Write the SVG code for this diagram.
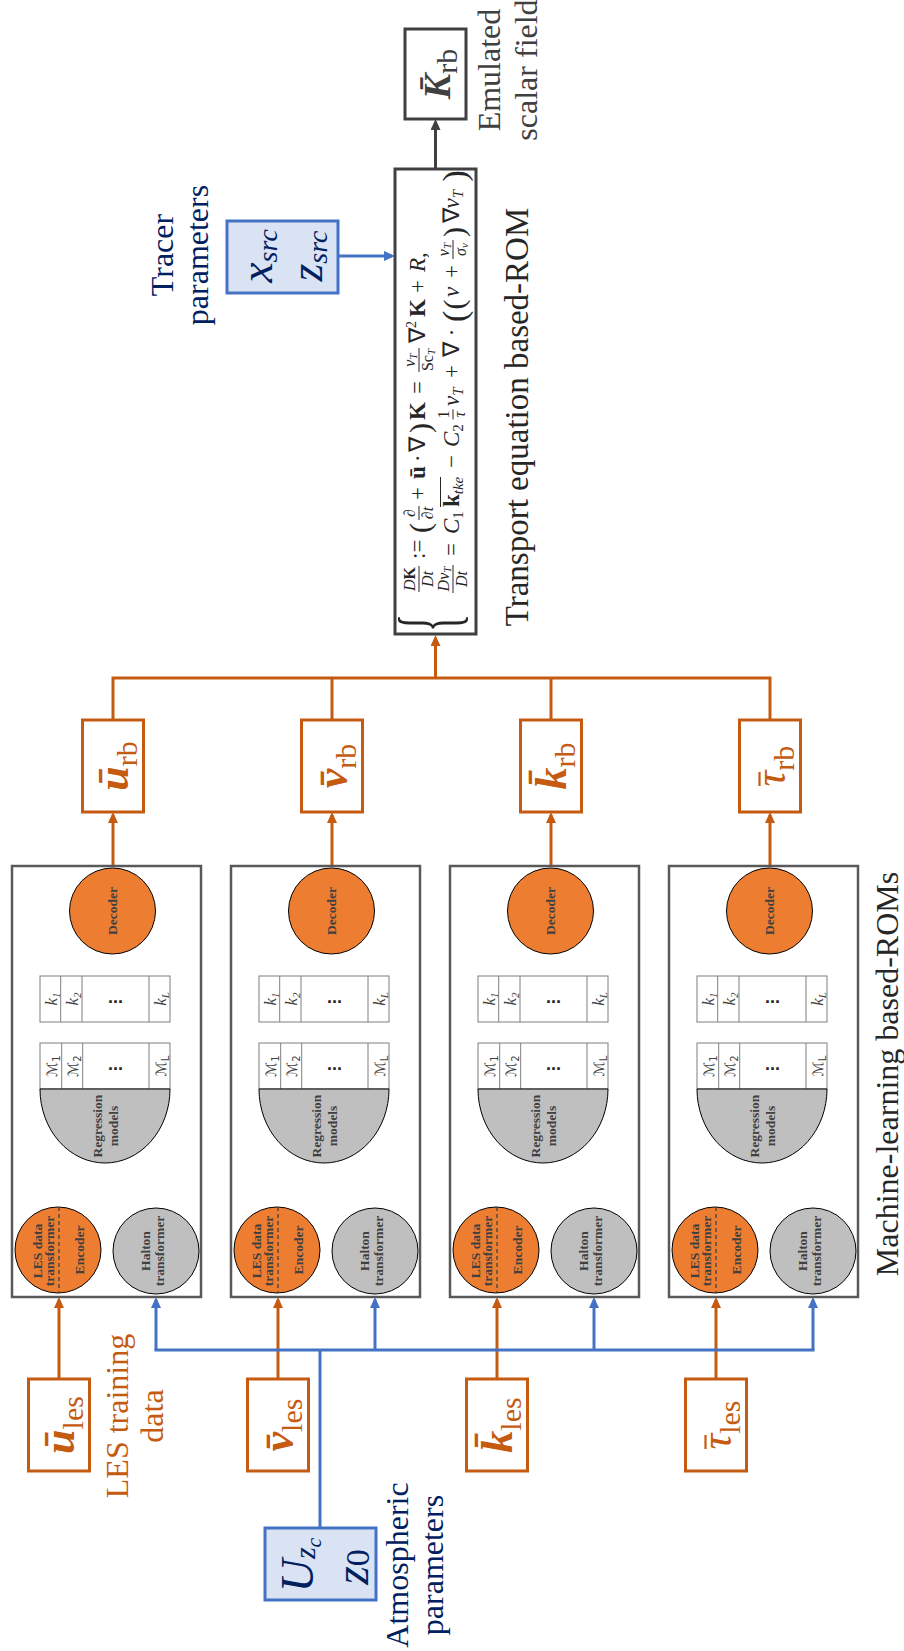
<svg xmlns="http://www.w3.org/2000/svg" width="904" height="1651" viewBox="0 0 904 1651">
<style>
.mod{fill:#fff;stroke:#595959;stroke-width:2.5}
.orbox{fill:#fff;stroke:#c55a11;stroke-width:3}
.blbox{fill:#dae3f3;stroke:#4472c4;stroke-width:3}
.gybox{fill:#fff;stroke:#404040;stroke-width:3}
.oc{fill:#ed7d31;stroke:#000;stroke-width:1}
.gc{fill:#bfbfbf;stroke:#000;stroke-width:1}
.cell{fill:#fff;stroke:#7f7f7f;stroke-width:1}
.dash{stroke:#404040;stroke-width:1.3;stroke-dasharray:4 3;fill:none}
.lo{stroke:#c55a11;stroke-width:3;fill:none}
.lb{stroke:#4472c4;stroke-width:3;fill:none}
.lg{stroke:#404040;stroke-width:3;fill:none}
.bt{font-family:"Liberation Serif",serif;font-weight:bold;font-size:13.5px;fill:#404040;text-anchor:middle}
.lab{font-family:"Liberation Serif",serif;font-size:32px;text-anchor:middle}
.ora{fill:#c55a11}
.navy{fill:#002060}
.dark{fill:#262626}
.gry{fill:#404040}
.bi{font-weight:bold;font-style:italic}
.it{font-style:italic}
.ki{font-family:"Liberation Serif",serif;font-size:17px;font-style:italic;fill:#404040;text-anchor:middle}
.mi{font-family:"DejaVu Sans","Liberation Serif",serif;font-size:14px;fill:#404040;text-anchor:middle}
.dots{font-family:"Liberation Sans",sans-serif;font-size:18px;font-weight:bold;fill:#262626;text-anchor:middle}
.eq{font-family:"Liberation Serif",serif;font-size:23px;fill:#262626}
.fr{font-family:"Liberation Serif",serif;font-size:16px;fill:#262626;text-anchor:middle}
.bar{stroke:#262626;stroke-width:1}
.obar{stroke:#c55a11;stroke-width:2.2}
</style>
<defs>
<marker id="aO" viewBox="0 0 11 10" refX="8" refY="5" markerWidth="11" markerHeight="10" markerUnits="userSpaceOnUse" orient="auto"><path d="M0,0 L11,5 L0,10 z" fill="#c55a11"/></marker>
<marker id="aB" viewBox="0 0 11 10" refX="8" refY="5" markerWidth="11" markerHeight="10" markerUnits="userSpaceOnUse" orient="auto"><path d="M0,0 L11,5 L0,10 z" fill="#4472c4"/></marker>
<marker id="aG" viewBox="0 0 11 10" refX="8" refY="5" markerWidth="11" markerHeight="10" markerUnits="userSpaceOnUse" orient="auto"><path d="M0,0 L11,5 L0,10 z" fill="#404040"/></marker>
</defs>
<rect width="904" height="1651" fill="#fff"/>

<g id="connectors">
  <g id="les-inputs">
    <line class="lo" x1="59" y1="1379" x2="59" y2="1300" marker-end="url(#aO)"/>
    <line class="lo" x1="278" y1="1379" x2="278" y2="1300" marker-end="url(#aO)"/>
    <line class="lo" x1="497" y1="1379" x2="497" y2="1300" marker-end="url(#aO)"/>
    <line class="lo" x1="716" y1="1379" x2="716" y2="1300" marker-end="url(#aO)"/>
  </g>
  <g id="atmos-inputs">
    <line class="lb" x1="320" y1="1528" x2="320" y2="1350"/>
    <line class="lb" x1="154.5" y1="1350" x2="814.5" y2="1350"/>
    <line class="lb" x1="156" y1="1350" x2="156" y2="1300" marker-end="url(#aB)"/>
    <line class="lb" x1="375" y1="1350" x2="375" y2="1300" marker-end="url(#aB)"/>
    <line class="lb" x1="594" y1="1350" x2="594" y2="1300" marker-end="url(#aB)"/>
    <line class="lb" x1="813" y1="1350" x2="813" y2="1300" marker-end="url(#aB)"/>
  </g>
  <g id="rom-outputs">
    <line class="lo" x1="113" y1="866" x2="113" y2="815" marker-end="url(#aO)"/>
    <line class="lo" x1="332" y1="866" x2="332" y2="815" marker-end="url(#aO)"/>
    <line class="lo" x1="551" y1="866" x2="551" y2="815" marker-end="url(#aO)"/>
    <line class="lo" x1="770" y1="866" x2="770" y2="815" marker-end="url(#aO)"/>
    <polyline class="lo" points="113,720 113,678 770,678 770,720"/>
    <line class="lo" x1="332" y1="720" x2="332" y2="678"/>
    <line class="lo" x1="551" y1="720" x2="551" y2="678"/>
    <line class="lo" x1="435.5" y1="678" x2="435.5" y2="638" marker-end="url(#aO)"/>
  </g>
  <line class="lb" x1="338" y1="256" x2="392" y2="256" marker-end="url(#aB)"/>
  <line class="lg" x1="435.5" y1="169" x2="435.5" y2="122" marker-end="url(#aG)"/>
  <g id="internal-1">
    <line class="lg" x1="113" y1="976" x2="113" y2="958" marker-end="url(#aG)"/>
    <line class="lg" x1="51" y1="1043" x2="51" y2="1025" marker-end="url(#aG)"/>
    <line class="lg" x1="72" y1="1043" x2="72" y2="1025" marker-end="url(#aG)"/>
    <line class="lg" x1="159" y1="1043" x2="159" y2="1025" marker-end="url(#aG)"/>
    <polyline class="lg" points="59,1207 59,1188 156,1188 156,1208"/>
    <line class="lg" x1="106.5" y1="1188" x2="106.5" y2="1167" marker-end="url(#aG)"/>
  </g>
  <g id="internal-2" transform="translate(219,0)">
    <line class="lg" x1="113" y1="976" x2="113" y2="958" marker-end="url(#aG)"/>
    <line class="lg" x1="51" y1="1043" x2="51" y2="1025" marker-end="url(#aG)"/>
    <line class="lg" x1="72" y1="1043" x2="72" y2="1025" marker-end="url(#aG)"/>
    <line class="lg" x1="159" y1="1043" x2="159" y2="1025" marker-end="url(#aG)"/>
    <polyline class="lg" points="59,1207 59,1188 156,1188 156,1208"/>
    <line class="lg" x1="106.5" y1="1188" x2="106.5" y2="1167" marker-end="url(#aG)"/>
  </g>
  <g id="internal-3" transform="translate(438,0)">
    <line class="lg" x1="113" y1="976" x2="113" y2="958" marker-end="url(#aG)"/>
    <line class="lg" x1="51" y1="1043" x2="51" y2="1025" marker-end="url(#aG)"/>
    <line class="lg" x1="72" y1="1043" x2="72" y2="1025" marker-end="url(#aG)"/>
    <line class="lg" x1="159" y1="1043" x2="159" y2="1025" marker-end="url(#aG)"/>
    <polyline class="lg" points="59,1207 59,1188 156,1188 156,1208"/>
    <line class="lg" x1="106.5" y1="1188" x2="106.5" y2="1167" marker-end="url(#aG)"/>
  </g>
  <g id="internal-4" transform="translate(657,0)">
    <line class="lg" x1="113" y1="976" x2="113" y2="958" marker-end="url(#aG)"/>
    <line class="lg" x1="51" y1="1043" x2="51" y2="1025" marker-end="url(#aG)"/>
    <line class="lg" x1="72" y1="1043" x2="72" y2="1025" marker-end="url(#aG)"/>
    <line class="lg" x1="159" y1="1043" x2="159" y2="1025" marker-end="url(#aG)"/>
    <polyline class="lg" points="59,1207 59,1188 156,1188 156,1208"/>
    <line class="lg" x1="106.5" y1="1188" x2="106.5" y2="1167" marker-end="url(#aG)"/>
  </g>
</g>

<g id="ml-rom-u">
  <rect class="mod" x="12" y="866" width="189" height="431"/>
  <g id="decoder-u"><circle class="oc" cx="112.5" cy="911" r="43"/><text class="bt" transform="translate(117,911) rotate(-90)">Decoder</text></g>
  <g id="latent-u">
    <rect class="cell" x="40" y="976" width="130" height="46"/>
    <path class="cell" d="M60.7,976V1022M82,976V1022M149,976V1022"/>
    <text class="ki" transform="translate(57,999) rotate(-90)">k<tspan font-size="11" dy="3">1</tspan></text>
    <text class="ki" transform="translate(78,999) rotate(-90)">k<tspan font-size="11" dy="3">2</tspan></text>
    <text class="dots" x="115.5" y="1003">...</text>
    <text class="ki" transform="translate(166,999) rotate(-90)">k<tspan font-size="11" dy="3">L</tspan></text>
  </g>
  <g id="regression-u">
    <rect class="cell" x="40" y="1043" width="130" height="46"/>
    <path class="cell" d="M61.7,1043V1089M82.7,1043V1089M149,1043V1089"/>
    <text class="mi" transform="translate(57,1066) rotate(-90)">ℳ<tspan font-size="10" dy="3">1</tspan></text>
    <text class="mi" transform="translate(78,1066) rotate(-90)">ℳ<tspan font-size="10" dy="3">2</tspan></text>
    <text class="dots" x="115.5" y="1070">...</text>
    <text class="mi" transform="translate(166,1066) rotate(-90)">ℳ<tspan font-size="10" dy="3">L</tspan></text>
    <path class="gc" d="M40,1089 A65,74 0 0 0 170,1089 Z"/>
    <text class="bt" transform="translate(102,1126) rotate(-90)"><tspan x="0" y="0">Regression</tspan><tspan x="0" y="16">models</tspan></text>
  </g>
  <g id="les-transformer-u">
    <circle class="oc" cx="58" cy="1250" r="43"/>
    <line class="dash" x1="59" y1="1207" x2="59" y2="1293"/>
    <text class="bt" transform="translate(42,1251) rotate(-90)"><tspan x="0" y="0">LES data</tspan><tspan x="0" y="12">transformer</tspan></text>
    <text class="bt" transform="translate(84,1250) rotate(-90)">Encoder</text>
  </g>
  <g id="halton-u">
    <circle class="gc" cx="156" cy="1251" r="43"/>
    <text class="bt" transform="translate(150,1251) rotate(-90)"><tspan x="0" y="0">Halton</tspan><tspan x="0" y="14">transformer</tspan></text>
  </g>
</g>

<g id="ml-rom-v" transform="translate(219,0)">
  <rect class="mod" x="12" y="866" width="189" height="431"/>
  <g id="decoder-v"><circle class="oc" cx="112.5" cy="911" r="43"/><text class="bt" transform="translate(117,911) rotate(-90)">Decoder</text></g>
  <g id="latent-v">
    <rect class="cell" x="40" y="976" width="130" height="46"/>
    <path class="cell" d="M60.7,976V1022M82,976V1022M149,976V1022"/>
    <text class="ki" transform="translate(57,999) rotate(-90)">k<tspan font-size="11" dy="3">1</tspan></text>
    <text class="ki" transform="translate(78,999) rotate(-90)">k<tspan font-size="11" dy="3">2</tspan></text>
    <text class="dots" x="115.5" y="1003">...</text>
    <text class="ki" transform="translate(166,999) rotate(-90)">k<tspan font-size="11" dy="3">L</tspan></text>
  </g>
  <g id="regression-v">
    <rect class="cell" x="40" y="1043" width="130" height="46"/>
    <path class="cell" d="M61.7,1043V1089M82.7,1043V1089M149,1043V1089"/>
    <text class="mi" transform="translate(57,1066) rotate(-90)">ℳ<tspan font-size="10" dy="3">1</tspan></text>
    <text class="mi" transform="translate(78,1066) rotate(-90)">ℳ<tspan font-size="10" dy="3">2</tspan></text>
    <text class="dots" x="115.5" y="1070">...</text>
    <text class="mi" transform="translate(166,1066) rotate(-90)">ℳ<tspan font-size="10" dy="3">L</tspan></text>
    <path class="gc" d="M40,1089 A65,74 0 0 0 170,1089 Z"/>
    <text class="bt" transform="translate(102,1126) rotate(-90)"><tspan x="0" y="0">Regression</tspan><tspan x="0" y="16">models</tspan></text>
  </g>
  <g id="les-transformer-v">
    <circle class="oc" cx="58" cy="1250" r="43"/>
    <line class="dash" x1="59" y1="1207" x2="59" y2="1293"/>
    <text class="bt" transform="translate(42,1251) rotate(-90)"><tspan x="0" y="0">LES data</tspan><tspan x="0" y="12">transformer</tspan></text>
    <text class="bt" transform="translate(84,1250) rotate(-90)">Encoder</text>
  </g>
  <g id="halton-v">
    <circle class="gc" cx="156" cy="1251" r="43"/>
    <text class="bt" transform="translate(150,1251) rotate(-90)"><tspan x="0" y="0">Halton</tspan><tspan x="0" y="14">transformer</tspan></text>
  </g>
</g>

<g id="ml-rom-k" transform="translate(438,0)">
  <rect class="mod" x="12" y="866" width="189" height="431"/>
  <g id="decoder-k"><circle class="oc" cx="112.5" cy="911" r="43"/><text class="bt" transform="translate(117,911) rotate(-90)">Decoder</text></g>
  <g id="latent-k">
    <rect class="cell" x="40" y="976" width="130" height="46"/>
    <path class="cell" d="M60.7,976V1022M82,976V1022M149,976V1022"/>
    <text class="ki" transform="translate(57,999) rotate(-90)">k<tspan font-size="11" dy="3">1</tspan></text>
    <text class="ki" transform="translate(78,999) rotate(-90)">k<tspan font-size="11" dy="3">2</tspan></text>
    <text class="dots" x="115.5" y="1003">...</text>
    <text class="ki" transform="translate(166,999) rotate(-90)">k<tspan font-size="11" dy="3">L</tspan></text>
  </g>
  <g id="regression-k">
    <rect class="cell" x="40" y="1043" width="130" height="46"/>
    <path class="cell" d="M61.7,1043V1089M82.7,1043V1089M149,1043V1089"/>
    <text class="mi" transform="translate(57,1066) rotate(-90)">ℳ<tspan font-size="10" dy="3">1</tspan></text>
    <text class="mi" transform="translate(78,1066) rotate(-90)">ℳ<tspan font-size="10" dy="3">2</tspan></text>
    <text class="dots" x="115.5" y="1070">...</text>
    <text class="mi" transform="translate(166,1066) rotate(-90)">ℳ<tspan font-size="10" dy="3">L</tspan></text>
    <path class="gc" d="M40,1089 A65,74 0 0 0 170,1089 Z"/>
    <text class="bt" transform="translate(102,1126) rotate(-90)"><tspan x="0" y="0">Regression</tspan><tspan x="0" y="16">models</tspan></text>
  </g>
  <g id="les-transformer-k">
    <circle class="oc" cx="58" cy="1250" r="43"/>
    <line class="dash" x1="59" y1="1207" x2="59" y2="1293"/>
    <text class="bt" transform="translate(42,1251) rotate(-90)"><tspan x="0" y="0">LES data</tspan><tspan x="0" y="12">transformer</tspan></text>
    <text class="bt" transform="translate(84,1250) rotate(-90)">Encoder</text>
  </g>
  <g id="halton-k">
    <circle class="gc" cx="156" cy="1251" r="43"/>
    <text class="bt" transform="translate(150,1251) rotate(-90)"><tspan x="0" y="0">Halton</tspan><tspan x="0" y="14">transformer</tspan></text>
  </g>
</g>

<g id="ml-rom-tau" transform="translate(657,0)">
  <rect class="mod" x="12" y="866" width="189" height="431"/>
  <g id="decoder-tau"><circle class="oc" cx="112.5" cy="911" r="43"/><text class="bt" transform="translate(117,911) rotate(-90)">Decoder</text></g>
  <g id="latent-tau">
    <rect class="cell" x="40" y="976" width="130" height="46"/>
    <path class="cell" d="M60.7,976V1022M82,976V1022M149,976V1022"/>
    <text class="ki" transform="translate(57,999) rotate(-90)">k<tspan font-size="11" dy="3">1</tspan></text>
    <text class="ki" transform="translate(78,999) rotate(-90)">k<tspan font-size="11" dy="3">2</tspan></text>
    <text class="dots" x="115.5" y="1003">...</text>
    <text class="ki" transform="translate(166,999) rotate(-90)">k<tspan font-size="11" dy="3">L</tspan></text>
  </g>
  <g id="regression-tau">
    <rect class="cell" x="40" y="1043" width="130" height="46"/>
    <path class="cell" d="M61.7,1043V1089M82.7,1043V1089M149,1043V1089"/>
    <text class="mi" transform="translate(57,1066) rotate(-90)">ℳ<tspan font-size="10" dy="3">1</tspan></text>
    <text class="mi" transform="translate(78,1066) rotate(-90)">ℳ<tspan font-size="10" dy="3">2</tspan></text>
    <text class="dots" x="115.5" y="1070">...</text>
    <text class="mi" transform="translate(166,1066) rotate(-90)">ℳ<tspan font-size="10" dy="3">L</tspan></text>
    <path class="gc" d="M40,1089 A65,74 0 0 0 170,1089 Z"/>
    <text class="bt" transform="translate(102,1126) rotate(-90)"><tspan x="0" y="0">Regression</tspan><tspan x="0" y="16">models</tspan></text>
  </g>
  <g id="les-transformer-tau">
    <circle class="oc" cx="58" cy="1250" r="43"/>
    <line class="dash" x1="59" y1="1207" x2="59" y2="1293"/>
    <text class="bt" transform="translate(42,1251) rotate(-90)"><tspan x="0" y="0">LES data</tspan><tspan x="0" y="12">transformer</tspan></text>
    <text class="bt" transform="translate(84,1250) rotate(-90)">Encoder</text>
  </g>
  <g id="halton-tau">
    <circle class="gc" cx="156" cy="1251" r="43"/>
    <text class="bt" transform="translate(150,1251) rotate(-90)"><tspan x="0" y="0">Halton</tspan><tspan x="0" y="14">transformer</tspan></text>
  </g>
</g>

<g id="u-les"><rect class="orbox" x="28.5" y="1379" width="61" height="92"/>
  <text class="lab ora" transform="translate(73.5,1425) rotate(-90)"><tspan class="bi" font-size="44">ū</tspan><tspan font-size="30" dy="9">les</tspan></text></g>
<g id="v-les"><rect class="orbox" x="247.5" y="1379" width="61" height="92"/>
  <text class="lab ora" transform="translate(292.5,1425) rotate(-90)"><tspan class="bi" font-size="44">v&#x304;</tspan><tspan font-size="30" dy="9">les</tspan></text></g>
<g id="k-les"><rect class="orbox" x="466.5" y="1379" width="61" height="92"/>
  <text class="lab ora" transform="translate(511.5,1425) rotate(-90)"><tspan class="bi" font-size="44">k&#x304;</tspan><tspan font-size="30" dy="9">les</tspan></text></g>
<g id="tau-les"><rect class="orbox" x="685.5" y="1379" width="61" height="92"/>
  <g transform="translate(730.5,1425) rotate(-90)">
    <text class="lab ora"><tspan class="it" font-size="44">τ</tspan><tspan font-size="30" dy="9">les</tspan></text>
    <line class="obar" x1="-24" y1="-25" x2="-10" y2="-25"/>
  </g></g>

<g id="u-rb"><rect class="orbox" x="82.5" y="720" width="61" height="92"/>
  <text class="lab ora" transform="translate(127.5,766) rotate(-90)"><tspan class="bi" font-size="44">ū</tspan><tspan font-size="30" dy="9">rb</tspan></text></g>
<g id="v-rb"><rect class="orbox" x="301.5" y="720" width="61" height="92"/>
  <text class="lab ora" transform="translate(346.5,766) rotate(-90)"><tspan class="bi" font-size="44">v&#x304;</tspan><tspan font-size="30" dy="9">rb</tspan></text></g>
<g id="k-rb"><rect class="orbox" x="520.5" y="720" width="61" height="92"/>
  <text class="lab ora" transform="translate(565.5,766) rotate(-90)"><tspan class="bi" font-size="44">k&#x304;</tspan><tspan font-size="30" dy="9">rb</tspan></text></g>
<g id="tau-rb"><rect class="orbox" x="739.5" y="720" width="61" height="92"/>
  <g transform="translate(784.5,766) rotate(-90)">
    <text class="lab ora"><tspan class="it" font-size="44">τ</tspan><tspan font-size="30" dy="9">rb</tspan></text>
    <line class="obar" x1="-20" y1="-25" x2="-6" y2="-25"/>
  </g></g>

<g id="K-rb"><rect class="gybox" x="405" y="29" width="61" height="90"/>
  <text class="lab gry" transform="translate(450,74) rotate(-90)"><tspan class="bi" font-size="38">K&#x304;</tspan><tspan font-size="30" dy="7">rb</tspan></text></g>

<g id="atmos"><rect class="blbox" x="265" y="1528" width="111" height="72"/>
  <text class="lab navy" transform="translate(313,1565) rotate(-90)"><tspan class="it" font-size="46">U</tspan><tspan class="it" font-size="30" dy="2">z</tspan><tspan class="it" font-size="22" dy="6">c</tspan></text>
  <text class="lab navy" transform="translate(368,1567) rotate(-90)"><tspan class="it" font-size="48">z</tspan><tspan font-size="34" dy="1">0</tspan></text></g>

<g id="tracer"><rect class="blbox" x="227" y="221" width="111" height="72"/>
  <text class="lab navy" transform="translate(272,256) rotate(-90)"><tspan class="it" font-size="46">x</tspan><tspan class="it" font-size="28" dy="5">src</tspan></text>
  <text class="lab navy" transform="translate(322,256) rotate(-90)"><tspan class="it" font-size="46">z</tspan><tspan class="it" font-size="28" dy="5">src</tspan></text></g>

<g id="transport-rom">
  <rect class="gybox" x="395" y="169" width="81" height="465" stroke-width="2.5"/>
  <g transform="translate(395,634) rotate(-90)">
    <text class="eq" transform="translate(2,62) scale(0.45,1)" style="font-size:85px">{</text>
    <text class="fr" x="55" y="20"><tspan class="it">D</tspan><tspan font-weight="bold">K</tspan></text>
    <line class="bar" x1="42" y1="24" x2="68" y2="24"/>
    <text class="fr it" x="55" y="38">Dt</text>
    <text class="eq" x="75" y="30">:=</text>
    <text class="eq" x="101" y="35" style="font-size:30px">(</text>
    <text class="fr" x="121" y="20">∂</text>
    <line class="bar" x1="114" y1="24" x2="128" y2="24"/>
    <text class="fr" x="121" y="38">∂<tspan class="it">t</tspan></text>
    <text class="eq" x="134" y="30">+</text>
    <text class="eq" x="155" y="30" font-weight="bold">ū</text>
    <text class="eq" x="172" y="30">·</text>
    <text class="eq" x="182" y="30">∇</text>
    <text class="eq" x="201" y="35" style="font-size:30px">)</text>
    <text class="eq" x="214" y="30" font-weight="bold">K</text>
    <text class="eq" x="240" y="30">=</text>
    <text class="fr" x="274" y="20"><tspan class="it">ν</tspan><tspan class="it" font-size="11" dy="2">T</tspan></text>
    <line class="bar" x1="262" y1="24" x2="286" y2="24"/>
    <text class="fr" x="274" y="38">Sc<tspan class="it" font-size="11" dy="2">T</tspan></text>
    <text class="eq" x="291" y="30">∇<tspan font-size="14" dy="-9">2</tspan></text>
    <text class="eq" x="317" y="30" font-weight="bold">K</text>
    <text class="eq" x="341" y="30">+</text>
    <text class="eq" x="362" y="30"><tspan class="it">R</tspan>,</text>
    <text class="fr" x="55" y="54"><tspan class="it">Dν</tspan><tspan class="it" font-size="11" dy="2">T</tspan></text>
    <line class="bar" x1="41" y1="58" x2="69" y2="58"/>
    <text class="fr it" x="55" y="72">Dt</text>
    <text class="eq" x="78" y="64">=</text>
    <text class="eq" x="100" y="64"><tspan class="it">C</tspan><tspan font-size="15" dy="4">1</tspan></text>
    <text class="eq" x="127" y="64"><tspan font-weight="bold">k</tspan><tspan class="it" font-size="15" dy="4">tke</tspan></text>
    <line class="bar" x1="127" y1="45.5" x2="157" y2="45.5"/>
    <text class="eq" x="166" y="64">−</text>
    <text class="eq" x="187" y="64"><tspan class="it">C</tspan><tspan font-size="15" dy="4">2</tspan></text>
    <text class="fr" x="219.6" y="54">1</text>
    <line class="bar" x1="214.6" y1="58" x2="224.6" y2="58"/>
    <text class="fr it" x="219.6" y="70">τ</text>
    <text class="eq" x="228" y="64"><tspan class="it">ν</tspan><tspan class="it" font-size="15" dy="4">T</tspan></text>
    <text class="eq" x="256" y="64">+</text>
    <text class="eq" x="277" y="64">∇ ·</text>
    <text class="eq" x="312" y="71" style="font-size:34px">(</text>
    <text class="eq" x="324.6" y="69" style="font-size:30px">(</text>
    <text class="eq it" x="337" y="64">ν</text>
    <text class="eq" x="356" y="64">+</text>
    <text class="fr" x="384.4" y="54"><tspan class="it">ν</tspan><tspan class="it" font-size="11" dy="2">T</tspan></text>
    <line class="bar" x1="375" y1="58" x2="394" y2="58"/>
    <text class="fr" x="384.4" y="71"><tspan class="it">σ</tspan><tspan class="it" font-size="11" dy="2">ν</tspan></text>
    <text class="eq" x="397" y="69" style="font-size:30px">)</text>
    <text class="eq" x="410.6" y="64">∇<tspan class="it">ν</tspan><tspan class="it" font-size="15" dy="4">T</tspan></text>
    <text class="eq" x="452.6" y="71" style="font-size:34px">)</text>
  </g>
</g>

<text class="lab gry" transform="translate(500,70) rotate(-90)"><tspan x="0" y="0">Emulated</tspan><tspan x="0" y="37">scalar field</tspan></text>
<text class="lab navy" transform="translate(173,255) rotate(-90)"><tspan x="0" y="0">Tracer</tspan><tspan x="0" y="35">parameters</tspan></text>
<text class="lab dark" transform="translate(528,417) rotate(-90)" style="font-size:33px">Transport equation based-ROM</text>
<text class="lab dark" transform="translate(898,1074) rotate(-90)">Machine-learning based-ROMs</text>
<text class="lab ora" transform="translate(128,1416) rotate(-90)"><tspan x="0" y="0">LES training</tspan><tspan x="0" y="35">data</tspan></text>
<text class="lab navy" transform="translate(408,1565) rotate(-90)"><tspan x="0" y="0">Atmospheric</tspan><tspan x="0" y="35">parameters</tspan></text>
</svg>
